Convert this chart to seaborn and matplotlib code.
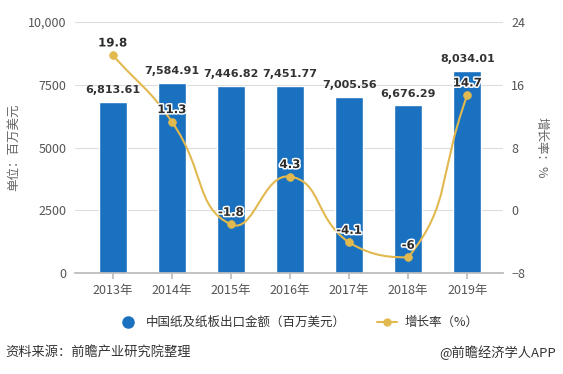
import numpy as np
import pandas as pd
import seaborn as sns
import matplotlib.pyplot as plt
import matplotlib.patheffects as pe
from matplotlib.path import Path
from matplotlib.patches import PathPatch
from matplotlib.lines import Line2D

# data
years = ['2013年', '2014年', '2015年', '2016年', '2017年', '2018年', '2019年']
export_value = [6813.61, 7584.91, 7446.82, 7451.77, 7005.56, 6676.29, 8034.01]
growth = [19.8, 11.3, -1.8, 4.3, -4.1, -6, 14.7]
value_labels = ['6,813.61', '7,584.91', '7,446.82', '7,451.77', '7,005.56', '6,676.29', '8,034.01']
left_ticks = [0, 2500, 5000, 7500, 10000]
left_tick_labels = ['0', '2500', '5000', '7500', '10,000']
right_ticks = [-8, 0, 8, 16, 24]

bar_color = '#1a71bf'
line_color = '#e2b94f'

sns.set_theme(style='white')
plt.rcParams['font.family'] = ['Noto Sans CJK SC', 'DejaVu Sans']

df = pd.DataFrame({'year': years, 'value': export_value, 'growth': growth})

fig = plt.figure(figsize=(5.63, 3.74), dpi=100)
ax = fig.add_axes([0.133, 0.270, 0.760, 0.671])

sns.barplot(data=df, x='year', y='value', color=bar_color, width=0.47,
            saturation=1, ax=ax)
ax.set_ylim(0, 10000)
ax.set_xlim(-0.64, 6.6)
ax.set_yticks(left_ticks)
ax.set_yticklabels(left_tick_labels)
ax.yaxis.grid(True, color='#dcdcdc', linewidth=0.8)
ax.set_axisbelow(True)
for s in ['top', 'right', 'left']:
    ax.spines[s].set_visible(False)
ax.spines['bottom'].set_color('#bbbbbb')
ax.tick_params(axis='y', length=0, labelsize=9, labelcolor='#555555', pad=6)
ax.tick_params(axis='x', length=4, color='#bbbbbb', bottom=True,
               labelsize=9, labelcolor='#555555', pad=4)
ax.set_xlabel('')
ax.set_ylabel('单位：百万美元', fontsize=9, color='#666666', labelpad=6)

for i, (v, lab) in enumerate(zip(export_value, value_labels)):
    ax.annotate(lab, (i, v), xytext=(0, 5), textcoords='offset points',
                ha='center', va='bottom', fontsize=8, fontweight='bold',
                color='#333333', family='DejaVu Sans')

ax2 = ax.twinx()
ax2.set_ylim(-8, 24)
ax2.set_yticks(right_ticks)
for s in ax2.spines.values():
    s.set_visible(False)
ax2.tick_params(axis='y', length=0, labelsize=9, labelcolor='#555555', pad=6)
ax2.set_ylabel('增长率：%', fontsize=9, color='#666666', rotation=270,
               labelpad=16)
ax2.grid(False)

# smooth curve through the growth points (echarts-like bezier smoothing,
# control points clamped to the data's bounding box)
xs = np.arange(len(growth), dtype=float)
ys = np.array(growth, dtype=float)
sx, sy = 59.0, 251.0 / 32.0
px, py = xs * sx, ys * sy
ymin, ymax = py.min(), py.max()
smooth = 0.5
cps = []
for i in range(len(px)):
    prev = (px[max(i - 1, 0)], py[max(i - 1, 0)])
    nxt = (px[min(i + 1, len(px) - 1)], py[min(i + 1, len(px) - 1)])
    vx, vy = nxt[0] - prev[0], nxt[1] - prev[1]
    d0 = np.hypot(px[i] - prev[0], py[i] - prev[1])
    d1 = np.hypot(px[i] - nxt[0], py[i] - nxt[1])
    tot = d0 + d1 if d0 + d1 > 0 else 1
    d0, d1 = d0 / tot, d1 / tot
    c0 = (px[i] - vx * smooth * d0, np.clip(py[i] - vy * smooth * d0, ymin, ymax))
    c1 = (px[i] + vx * smooth * d1, np.clip(py[i] + vy * smooth * d1, ymin, ymax))
    cps.append((c0, c1))
verts = [(xs[0], ys[0])]
codes = [Path.MOVETO]
for i in range(len(px) - 1):
    c1 = cps[i][1]
    c2 = cps[i + 1][0]
    verts += [(c1[0] / sx, c1[1] / sy), (c2[0] / sx, c2[1] / sy), (xs[i + 1], ys[i + 1])]
    codes += [Path.CURVE4] * 3
ax2.add_patch(PathPatch(Path(verts, codes), fill=False, edgecolor=line_color,
                        linewidth=1.5, zorder=3))
sns.scatterplot(x=xs, y=ys, color=line_color, s=32, edgecolor=line_color,
                zorder=4, ax=ax2, legend=False)

for i, g in enumerate(growth):
    t = ax2.annotate(f'{g:g}', (i, g), xytext=(0, 4), textcoords='offset points',
                     ha='center', va='bottom', fontsize=8.5, fontweight='bold',
                     color='#2b2b2b', family='DejaVu Sans')
    t.set_path_effects([pe.withStroke(linewidth=2.2, foreground='white')])

handles = [
    Line2D([], [], marker='o', linestyle='none', color=bar_color, markersize=8),
    Line2D([], [], marker='o', color=line_color, markersize=5, linewidth=1.5),
]
fig.legend(handles, ['中国纸及纸板出口金额（百万美元）', '增长率（%）'],
           loc='center', bbox_to_anchor=(0.53, 0.137), ncol=2, frameon=False,
           fontsize=9, handlelength=1.6, columnspacing=2.5, handletextpad=0.6,
           labelcolor='#333333')

fig.text(0.009, 0.058, '资料来源：前瞻产业研究院整理', fontsize=9.5,
         color='#333333', va='center')
fig.text(0.987, 0.058, '@前瞻经济学人APP', fontsize=9.5, color='#333333',
         va='center', ha='right')

fig.savefig('out.png', dpi=100)
